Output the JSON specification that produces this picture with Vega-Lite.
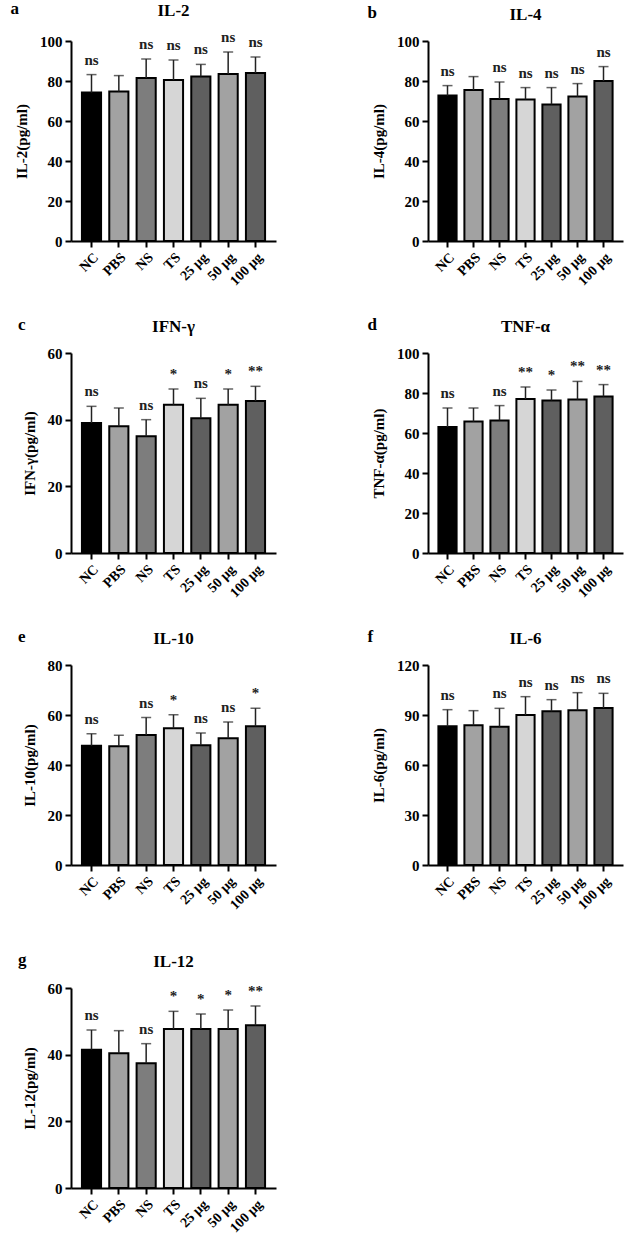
{
  "$schema": "https://vega.github.io/schema/vega-lite/v6.json",
  "padding": {"left": 10, "top": 0, "right": 2, "bottom": 0},
  "background": "white",
  "datasets": {
    "il2": [
      {"group": "NC", "mean": 74.2, "err": 83.2, "sig": "ns"},
      {"group": "PBS", "mean": 74.8, "err": 82.7, "sig": ""},
      {"group": "NS", "mean": 81.5, "err": 91.0, "sig": "ns"},
      {"group": "TS", "mean": 80.5, "err": 90.5, "sig": "ns"},
      {"group": "25 μg", "mean": 82.3, "err": 88.3, "sig": "ns"},
      {"group": "50 μg", "mean": 83.5, "err": 94.5, "sig": "ns"},
      {"group": "100 μg", "mean": 84.0, "err": 92.0, "sig": "ns"}
    ],
    "il4": [
      {"group": "NC", "mean": 72.7, "err": 77.7, "sig": "ns"},
      {"group": "PBS", "mean": 75.5, "err": 82.2, "sig": ""},
      {"group": "NS", "mean": 71.0, "err": 79.5, "sig": "ns"},
      {"group": "TS", "mean": 70.8, "err": 76.7, "sig": "ns"},
      {"group": "25 μg", "mean": 68.3, "err": 76.7, "sig": "ns"},
      {"group": "50 μg", "mean": 72.2, "err": 78.7, "sig": "ns"},
      {"group": "100 μg", "mean": 80.0, "err": 87.2, "sig": "ns"}
    ],
    "ifn": [
      {"group": "NC", "mean": 39.0, "err": 44.0, "sig": "ns"},
      {"group": "PBS", "mean": 38.0, "err": 43.5, "sig": ""},
      {"group": "NS", "mean": 35.0, "err": 40.0, "sig": "ns"},
      {"group": "TS", "mean": 44.5, "err": 49.2, "sig": "*"},
      {"group": "25 μg", "mean": 40.4, "err": 46.4, "sig": "ns"},
      {"group": "50 μg", "mean": 44.5, "err": 49.2, "sig": "*"},
      {"group": "100 μg", "mean": 45.6, "err": 50.0, "sig": "**"}
    ],
    "tnf": [
      {"group": "NC", "mean": 63.0, "err": 72.5, "sig": "ns"},
      {"group": "PBS", "mean": 65.7, "err": 72.5, "sig": ""},
      {"group": "NS", "mean": 66.3, "err": 73.7, "sig": "ns"},
      {"group": "TS", "mean": 77.0, "err": 83.0, "sig": "**"},
      {"group": "25 μg", "mean": 76.3, "err": 81.5, "sig": "*"},
      {"group": "50 μg", "mean": 76.7, "err": 85.8, "sig": "**"},
      {"group": "100 μg", "mean": 78.3, "err": 84.2, "sig": "**"}
    ],
    "il10": [
      {"group": "NC", "mean": 47.7, "err": 52.5, "sig": "ns"},
      {"group": "PBS", "mean": 47.5, "err": 51.9, "sig": ""},
      {"group": "NS", "mean": 52.0, "err": 59.0, "sig": "ns"},
      {"group": "TS", "mean": 54.7, "err": 60.1, "sig": "*"},
      {"group": "25 μg", "mean": 47.9, "err": 52.8, "sig": "ns"},
      {"group": "50 μg", "mean": 50.7, "err": 57.2, "sig": "ns"},
      {"group": "100 μg", "mean": 55.5, "err": 62.7, "sig": "*"}
    ],
    "il6": [
      {"group": "NC", "mean": 83.2, "err": 93.2, "sig": "ns"},
      {"group": "PBS", "mean": 83.8, "err": 92.6, "sig": ""},
      {"group": "NS", "mean": 83.0, "err": 94.0, "sig": "ns"},
      {"group": "TS", "mean": 90.0, "err": 101.0, "sig": "ns"},
      {"group": "25 μg", "mean": 92.2, "err": 99.2, "sig": "ns"},
      {"group": "50 μg", "mean": 92.8, "err": 103.4, "sig": "ns"},
      {"group": "100 μg", "mean": 94.2, "err": 103.0, "sig": "ns"}
    ],
    "il12": [
      {"group": "NC", "mean": 41.5, "err": 47.4, "sig": "ns"},
      {"group": "PBS", "mean": 40.4, "err": 47.2, "sig": ""},
      {"group": "NS", "mean": 37.4, "err": 43.3, "sig": "ns"},
      {"group": "TS", "mean": 47.7, "err": 53.0, "sig": "*"},
      {"group": "25 μg", "mean": 47.7, "err": 52.2, "sig": "*"},
      {"group": "50 μg", "mean": 47.7, "err": 53.4, "sig": "*"},
      {"group": "100 μg", "mean": 48.8, "err": 54.6, "sig": "**"}
    ]
  },
  "spacing": 39,
  "vconcat": [
    {
      "spacing": 28,
      "vconcat": [
        {
          "hconcat": [
            {
              "title": {"text": "a", "anchor": "start", "offset": -16, "dx": -4},
              "vconcat": [
                {
                  "title": "IL-2",
                  "width": 205, "height": 200,
                  "data": {"name": "il2"},
                  "encoding": {"x": {"field": "group", "type": "nominal", "sort": null, "title": null, "scale": {"paddingInner": 0.3, "paddingOuter": 0.4}}},
                  "layer": [
                    {"mark": {"type": "bar", "stroke": "black", "strokeWidth": 2},
                     "encoding": {
                       "y": {"field": "mean", "type": "quantitative", "title": "IL-2(pg/ml)", "scale": {"domain": [0, 100], "nice": false}, "axis": {"values": [0, 20, 40, 60, 80, 100]}},
                       "color": {"field": "group", "type": "nominal", "legend": null, "scale": {"domain": ["NC", "PBS", "NS", "TS", "25 μg", "50 μg", "100 μg"], "range": ["#000000", "#a2a2a2", "#7d7d7d", "#d6d6d6", "#5f5f5f", "#a2a2a2", "#5f5f5f"]}}
                     }},
                    {"mark": {"type": "rule", "color": "#222", "strokeWidth": 1.5},
                     "encoding": {"y": {"field": "err", "type": "quantitative", "title": "IL-2(pg/ml)", "axis": {"values": [0, 20, 40, 60, 80, 100]}}, "y2": {"field": "mean"}}},
                    {"mark": {"type": "tick", "color": "#222", "thickness": 1.5, "size": 10, "orient": "horizontal"},
                     "encoding": {"y": {"field": "err", "type": "quantitative", "title": "IL-2(pg/ml)", "axis": {"values": [0, 20, 40, 60, 80, 100]}}}},
                    {"mark": {"type": "text", "dy": -7, "fontSize": 15, "fontWeight": "bold", "baseline": "bottom", "color": "#222"},
                     "encoding": {"y": {"field": "err", "type": "quantitative", "title": "IL-2(pg/ml)", "axis": {"values": [0, 20, 40, 60, 80, 100]}}, "text": {"field": "sig"}}}
                  ]
                }
              ]
            },
            {
              "title": {"text": "b", "anchor": "start", "offset": -16, "dx": -4},
              "vconcat": [
                {
                  "title": "IL-4",
                  "width": 195, "height": 200,
                  "data": {"name": "il4"},
                  "encoding": {"x": {"field": "group", "type": "nominal", "sort": null, "title": null, "scale": {"paddingInner": 0.3, "paddingOuter": 0.4}}},
                  "layer": [
                    {"mark": {"type": "bar", "stroke": "black", "strokeWidth": 2},
                     "encoding": {
                       "y": {"field": "mean", "type": "quantitative", "title": "IL-4(pg/ml)", "scale": {"domain": [0, 100], "nice": false}, "axis": {"values": [0, 20, 40, 60, 80, 100]}},
                       "color": {"field": "group", "type": "nominal", "legend": null, "scale": {"domain": ["NC", "PBS", "NS", "TS", "25 μg", "50 μg", "100 μg"], "range": ["#000000", "#a2a2a2", "#7d7d7d", "#d6d6d6", "#5f5f5f", "#a2a2a2", "#5f5f5f"]}}
                     }},
                    {"mark": {"type": "rule", "color": "#222", "strokeWidth": 1.5},
                     "encoding": {"y": {"field": "err", "type": "quantitative", "title": "IL-4(pg/ml)", "axis": {"values": [0, 20, 40, 60, 80, 100]}}, "y2": {"field": "mean"}}},
                    {"mark": {"type": "tick", "color": "#222", "thickness": 1.5, "size": 10, "orient": "horizontal"},
                     "encoding": {"y": {"field": "err", "type": "quantitative", "title": "IL-4(pg/ml)", "axis": {"values": [0, 20, 40, 60, 80, 100]}}}},
                    {"mark": {"type": "text", "dy": -7, "fontSize": 15, "fontWeight": "bold", "baseline": "bottom", "color": "#222"},
                     "encoding": {"y": {"field": "err", "type": "quantitative", "title": "IL-4(pg/ml)", "axis": {"values": [0, 20, 40, 60, 80, 100]}}, "text": {"field": "sig"}}}
                  ]
                }
              ]
            }
          ]
        },
        {
          "hconcat": [
            {
              "title": {"text": "c", "anchor": "start", "offset": -16, "dx": -4},
              "vconcat": [
                {
                  "title": "IFN-γ",
                  "width": 205, "height": 200,
                  "data": {"name": "ifn"},
                  "encoding": {"x": {"field": "group", "type": "nominal", "sort": null, "title": null, "scale": {"paddingInner": 0.3, "paddingOuter": 0.4}}},
                  "layer": [
                    {"mark": {"type": "bar", "stroke": "black", "strokeWidth": 2},
                     "encoding": {
                       "y": {"field": "mean", "type": "quantitative", "title": "IFN-γ(pg/ml)", "scale": {"domain": [0, 60], "nice": false}, "axis": {"values": [0, 20, 40, 60]}},
                       "color": {"field": "group", "type": "nominal", "legend": null, "scale": {"domain": ["NC", "PBS", "NS", "TS", "25 μg", "50 μg", "100 μg"], "range": ["#000000", "#a2a2a2", "#7d7d7d", "#d6d6d6", "#5f5f5f", "#a2a2a2", "#5f5f5f"]}}
                     }},
                    {"mark": {"type": "rule", "color": "#222", "strokeWidth": 1.5},
                     "encoding": {"y": {"field": "err", "type": "quantitative", "title": "IFN-γ(pg/ml)", "axis": {"values": [0, 20, 40, 60]}}, "y2": {"field": "mean"}}},
                    {"mark": {"type": "tick", "color": "#222", "thickness": 1.5, "size": 10, "orient": "horizontal"},
                     "encoding": {"y": {"field": "err", "type": "quantitative", "title": "IFN-γ(pg/ml)", "axis": {"values": [0, 20, 40, 60]}}}},
                    {"mark": {"type": "text", "dy": -7, "fontSize": 15, "fontWeight": "bold", "baseline": "bottom", "color": "#222"},
                     "encoding": {"y": {"field": "err", "type": "quantitative", "title": "IFN-γ(pg/ml)", "axis": {"values": [0, 20, 40, 60]}}, "text": {"field": "sig"}}}
                  ]
                }
              ]
            },
            {
              "title": {"text": "d", "anchor": "start", "offset": -16, "dx": -4},
              "vconcat": [
                {
                  "title": "TNF-α",
                  "width": 195, "height": 200,
                  "data": {"name": "tnf"},
                  "encoding": {"x": {"field": "group", "type": "nominal", "sort": null, "title": null, "scale": {"paddingInner": 0.3, "paddingOuter": 0.4}}},
                  "layer": [
                    {"mark": {"type": "bar", "stroke": "black", "strokeWidth": 2},
                     "encoding": {
                       "y": {"field": "mean", "type": "quantitative", "title": "TNF-α(pg/ml)", "scale": {"domain": [0, 100], "nice": false}, "axis": {"values": [0, 20, 40, 60, 80, 100]}},
                       "color": {"field": "group", "type": "nominal", "legend": null, "scale": {"domain": ["NC", "PBS", "NS", "TS", "25 μg", "50 μg", "100 μg"], "range": ["#000000", "#a2a2a2", "#7d7d7d", "#d6d6d6", "#5f5f5f", "#a2a2a2", "#5f5f5f"]}}
                     }},
                    {"mark": {"type": "rule", "color": "#222", "strokeWidth": 1.5},
                     "encoding": {"y": {"field": "err", "type": "quantitative", "title": "TNF-α(pg/ml)", "axis": {"values": [0, 20, 40, 60, 80, 100]}}, "y2": {"field": "mean"}}},
                    {"mark": {"type": "tick", "color": "#222", "thickness": 1.5, "size": 10, "orient": "horizontal"},
                     "encoding": {"y": {"field": "err", "type": "quantitative", "title": "TNF-α(pg/ml)", "axis": {"values": [0, 20, 40, 60, 80, 100]}}}},
                    {"mark": {"type": "text", "dy": -7, "fontSize": 15, "fontWeight": "bold", "baseline": "bottom", "color": "#222"},
                     "encoding": {"y": {"field": "err", "type": "quantitative", "title": "TNF-α(pg/ml)", "axis": {"values": [0, 20, 40, 60, 80, 100]}}, "text": {"field": "sig"}}}
                  ]
                }
              ]
            }
          ]
        },
        {
          "hconcat": [
            {
              "title": {"text": "e", "anchor": "start", "offset": -16, "dx": -4},
              "vconcat": [
                {
                  "title": "IL-10",
                  "width": 205, "height": 200,
                  "data": {"name": "il10"},
                  "encoding": {"x": {"field": "group", "type": "nominal", "sort": null, "title": null, "scale": {"paddingInner": 0.3, "paddingOuter": 0.4}}},
                  "layer": [
                    {"mark": {"type": "bar", "stroke": "black", "strokeWidth": 2},
                     "encoding": {
                       "y": {"field": "mean", "type": "quantitative", "title": "IL-10(pg/ml)", "scale": {"domain": [0, 80], "nice": false}, "axis": {"values": [0, 20, 40, 60, 80]}},
                       "color": {"field": "group", "type": "nominal", "legend": null, "scale": {"domain": ["NC", "PBS", "NS", "TS", "25 μg", "50 μg", "100 μg"], "range": ["#000000", "#a2a2a2", "#7d7d7d", "#d6d6d6", "#5f5f5f", "#a2a2a2", "#5f5f5f"]}}
                     }},
                    {"mark": {"type": "rule", "color": "#222", "strokeWidth": 1.5},
                     "encoding": {"y": {"field": "err", "type": "quantitative", "title": "IL-10(pg/ml)", "axis": {"values": [0, 20, 40, 60, 80]}}, "y2": {"field": "mean"}}},
                    {"mark": {"type": "tick", "color": "#222", "thickness": 1.5, "size": 10, "orient": "horizontal"},
                     "encoding": {"y": {"field": "err", "type": "quantitative", "title": "IL-10(pg/ml)", "axis": {"values": [0, 20, 40, 60, 80]}}}},
                    {"mark": {"type": "text", "dy": -7, "fontSize": 15, "fontWeight": "bold", "baseline": "bottom", "color": "#222"},
                     "encoding": {"y": {"field": "err", "type": "quantitative", "title": "IL-10(pg/ml)", "axis": {"values": [0, 20, 40, 60, 80]}}, "text": {"field": "sig"}}}
                  ]
                }
              ]
            },
            {
              "title": {"text": "f", "anchor": "start", "offset": -16, "dx": -4},
              "vconcat": [
                {
                  "title": "IL-6",
                  "width": 195, "height": 200,
                  "data": {"name": "il6"},
                  "encoding": {"x": {"field": "group", "type": "nominal", "sort": null, "title": null, "scale": {"paddingInner": 0.3, "paddingOuter": 0.4}}},
                  "layer": [
                    {"mark": {"type": "bar", "stroke": "black", "strokeWidth": 2},
                     "encoding": {
                       "y": {"field": "mean", "type": "quantitative", "title": "IL-6(pg/ml)", "scale": {"domain": [0, 120], "nice": false}, "axis": {"values": [0, 30, 60, 90, 120]}},
                       "color": {"field": "group", "type": "nominal", "legend": null, "scale": {"domain": ["NC", "PBS", "NS", "TS", "25 μg", "50 μg", "100 μg"], "range": ["#000000", "#a2a2a2", "#7d7d7d", "#d6d6d6", "#5f5f5f", "#a2a2a2", "#5f5f5f"]}}
                     }},
                    {"mark": {"type": "rule", "color": "#222", "strokeWidth": 1.5},
                     "encoding": {"y": {"field": "err", "type": "quantitative", "title": "IL-6(pg/ml)", "axis": {"values": [0, 30, 60, 90, 120]}}, "y2": {"field": "mean"}}},
                    {"mark": {"type": "tick", "color": "#222", "thickness": 1.5, "size": 10, "orient": "horizontal"},
                     "encoding": {"y": {"field": "err", "type": "quantitative", "title": "IL-6(pg/ml)", "axis": {"values": [0, 30, 60, 90, 120]}}}},
                    {"mark": {"type": "text", "dy": -7, "fontSize": 15, "fontWeight": "bold", "baseline": "bottom", "color": "#222"},
                     "encoding": {"y": {"field": "err", "type": "quantitative", "title": "IL-6(pg/ml)", "axis": {"values": [0, 30, 60, 90, 120]}}, "text": {"field": "sig"}}}
                  ]
                }
              ]
            }
          ]
        }
      ]
    },
    {
      "hconcat": [
        {
          "title": {"text": "g", "anchor": "start", "offset": -16, "dx": -4},
          "vconcat": [
            {
              "title": "IL-12",
              "width": 205, "height": 200,
              "data": {"name": "il12"},
              "encoding": {"x": {"field": "group", "type": "nominal", "sort": null, "title": null, "scale": {"paddingInner": 0.3, "paddingOuter": 0.4}}},
              "layer": [
                {"mark": {"type": "bar", "stroke": "black", "strokeWidth": 2},
                 "encoding": {
                   "y": {"field": "mean", "type": "quantitative", "title": "IL-12(pg/ml)", "scale": {"domain": [0, 60], "nice": false}, "axis": {"values": [0, 20, 40, 60]}},
                   "color": {"field": "group", "type": "nominal", "legend": null, "scale": {"domain": ["NC", "PBS", "NS", "TS", "25 μg", "50 μg", "100 μg"], "range": ["#000000", "#a2a2a2", "#7d7d7d", "#d6d6d6", "#5f5f5f", "#a2a2a2", "#5f5f5f"]}}
                 }},
                {"mark": {"type": "rule", "color": "#222", "strokeWidth": 1.5},
                 "encoding": {"y": {"field": "err", "type": "quantitative", "title": "IL-12(pg/ml)", "axis": {"values": [0, 20, 40, 60]}}, "y2": {"field": "mean"}}},
                {"mark": {"type": "tick", "color": "#222", "thickness": 1.5, "size": 10, "orient": "horizontal"},
                 "encoding": {"y": {"field": "err", "type": "quantitative", "title": "IL-12(pg/ml)", "axis": {"values": [0, 20, 40, 60]}}}},
                {"mark": {"type": "text", "dy": -7, "fontSize": 15, "fontWeight": "bold", "baseline": "bottom", "color": "#222"},
                 "encoding": {"y": {"field": "err", "type": "quantitative", "title": "IL-12(pg/ml)", "axis": {"values": [0, 20, 40, 60]}}, "text": {"field": "sig"}}}
              ]
            }
          ]
        }
      ]
    }
  ],
  "config": {
    "font": "Liberation Serif",
    "view": {"stroke": null},
    "concat": {"spacing": 91},
    "axis": {
      "grid": false,
      "domainColor": "black", "domainWidth": 2,
      "tickColor": "black", "tickWidth": 2, "tickSize": 6,
      "labelFont": "Liberation Serif", "labelFontWeight": "bold", "labelFontSize": 15, "labelColor": "black", "labelPadding": 3,
      "titleFont": "Liberation Serif", "titleFontWeight": "bold", "titleFontSize": 15, "titleColor": "black", "titlePadding": 10
    },
    "axisX": {"labelAngle": -45, "labelFontSize": 14},
    "title": {"font": "Liberation Serif", "fontSize": 17, "fontWeight": "bold", "color": "black", "offset": 10}
  }
}
